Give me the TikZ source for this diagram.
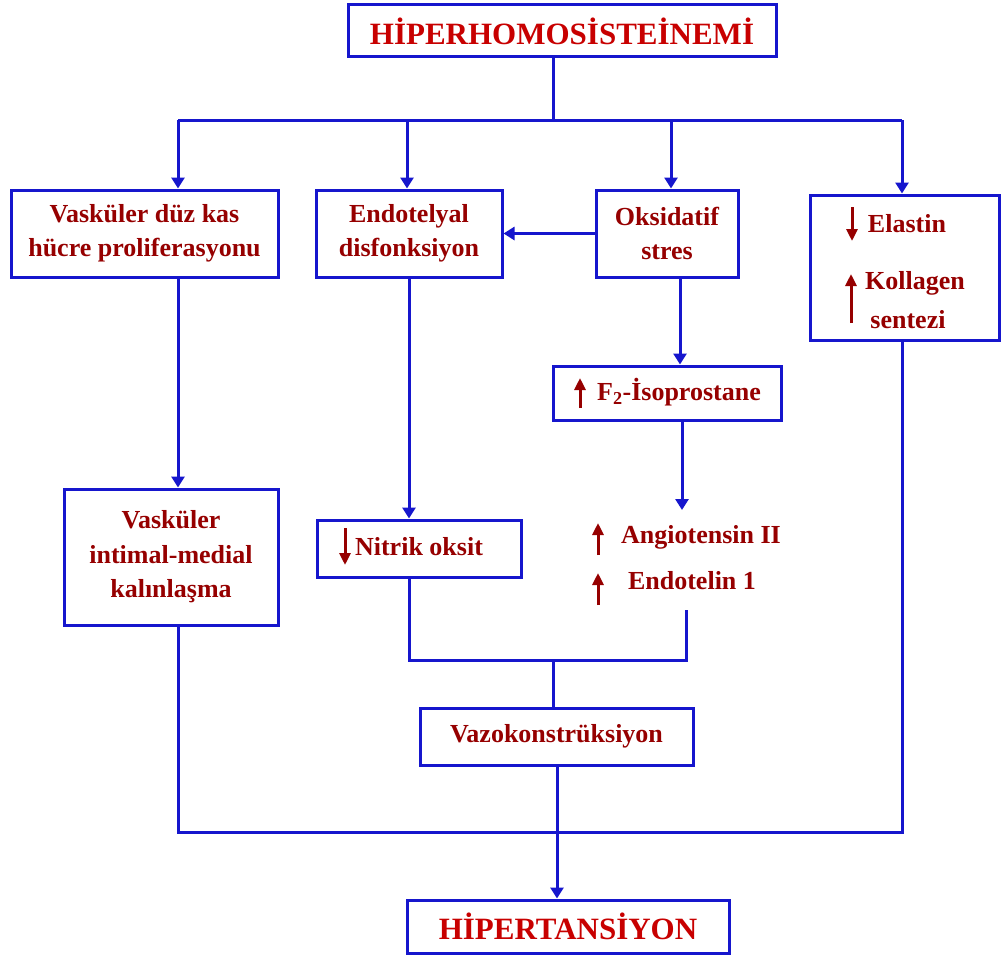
\documentclass[tikz,border=0pt]{standalone}
\usepackage{fontspec}
\setmainfont{Liberation Serif}
\usetikzlibrary{arrows.meta}
\definecolor{flowblue}{RGB}{22,22,205}
\definecolor{txtred}{RGB}{150,0,0}
\definecolor{headred}{RGB}{200,0,0}
\begin{document}
\begin{tikzpicture}[x=1pt,y=-1pt,
  bodyfont/.style={font=\fontsize{26}{34.5}\selectfont\bfseries},
  box/.style={draw=flowblue,line width=3pt,fill=white,inner sep=0pt,
    align=center,text=txtred,bodyfont},
  headbox/.style={box,text=headred,font=\fontsize{31}{36}\selectfont\bfseries},
  lbl/.style={inner sep=0pt,text=txtred,bodyfont},
  flow/.style={draw=flowblue,line width=3pt},
  flowarr/.style={flow,-{Triangle[length=11pt,width=13pt]}},
  redarr/.style={draw=txtred,line width=3pt,-{Triangle[length=12pt,width=11pt]}}]
\useasboundingbox (0,0) rectangle (1001,958);

% boxes
\node[headbox,minimum width=428pt,minimum height=52pt] (title) at (562,31) {HİPERHOMOSİSTEİNEMİ};
\node[box,minimum width=267pt,minimum height=87pt] (A) at (144.5,233.5) {Vasküler düz kas\\hücre proliferasyonu};
\node[box,minimum width=186pt,minimum height=87pt] (B) at (409,233.5) {Endotelyal\\disfonksiyon};
\node[box,minimum width=142pt,minimum height=87pt] (C) at (667,233.5) {Oksidatif\\stres};
\node[box,minimum width=189pt,minimum height=145pt] (D) at (904.5,267.5) {};
\node[box,minimum width=228pt,minimum height=54pt] (F) at (667,393) {};
\node[box,minimum width=214pt,minimum height=136pt] (E) at (171,557) {Vasküler\\intimal-medial\\kalınlaşma};
\node[box,minimum width=204pt,minimum height=57pt] (N) at (419,548.5) {};
\node[box,minimum width=273pt,minimum height=57pt] (V) at (556.5,736.5) {Vazokonstrüksiyon};
\node[headbox,minimum width=322pt,minimum height=53pt] (H) at (568,926.5) {HİPERTANSİYON};

% labels with up/down markers
\node[lbl] (elastin) at (907,224) {Elastin};
\node[lbl] (kollagen) at (915,283) {Kollagen};
\node[lbl] (sentezi) at (908,320) {sentezi};
\node[lbl] (iso) at (679,392) {F\textsubscript{2}-İsoprostane};
\node[lbl] (ang) at (701,537) {Angiotensin II};
\node[lbl] (end) at (692,581) {Endotelin 1};
\node[lbl] (no) at (419,547) {Nitrik oksit};

\draw[redarr] (852,207) -- (852,241);
\draw[redarr] (851,323) -- (851,274);
\draw[redarr] (580,408) -- (580,378);
\draw[redarr] (598,555) -- (598,523);
\draw[redarr] (598,605) -- (598,573);
\draw[redarr] (345,528) -- (345,565);

% junction points
\coordinate (j0) at (553,120);
\coordinate (ja) at (178,120);
\coordinate (jb) at (407,120);
\coordinate (jc) at (671,120);
\coordinate (jd) at (902,120);
\coordinate (xc) at (680,300);
\coordinate (fa) at (682,510);
\coordinate (m1) at (409,660);
\coordinate (m2) at (686,660);
\coordinate (m3) at (686,610);
\coordinate (mv) at (553,660);
\coordinate (vh) at (557,832);
\coordinate (b1) at (178,832);
\coordinate (b2) at (902,832);

% connectors
\draw[flow] (j0 |- title.south) -- (j0);
\draw[flow] (ja) -- (jd);
\draw[flowarr] (ja) -- (ja |- A.north);
\draw[flowarr] (jb) -- (jb |- B.north);
\draw[flowarr] (jc) -- (jc |- C.north);
\draw[flowarr] (jd) -- (jd |- D.north);
\draw[flowarr] (C.west) -- (B.east);
\draw[flowarr] (ja |- A.south) -- (ja |- E.north);
\draw[flowarr] (B.south) -- (B.south |- N.north);
\draw[flowarr] (xc |- C.south) -- (xc |- F.north);
\draw[flowarr] (fa |- F.south) -- (fa);
\draw[flow] (m1 |- N.south) -- (m1) -- (m2) -- (m3);
\draw[flow] (mv) -- (mv |- V.north);
\draw[flow] (b1 |- E.south) -- (b1) -- (b2) -- (b2 |- D.south);
\draw[flowarr] (vh |- V.south) -- (vh |- H.north);
\end{tikzpicture}
\end{document}
